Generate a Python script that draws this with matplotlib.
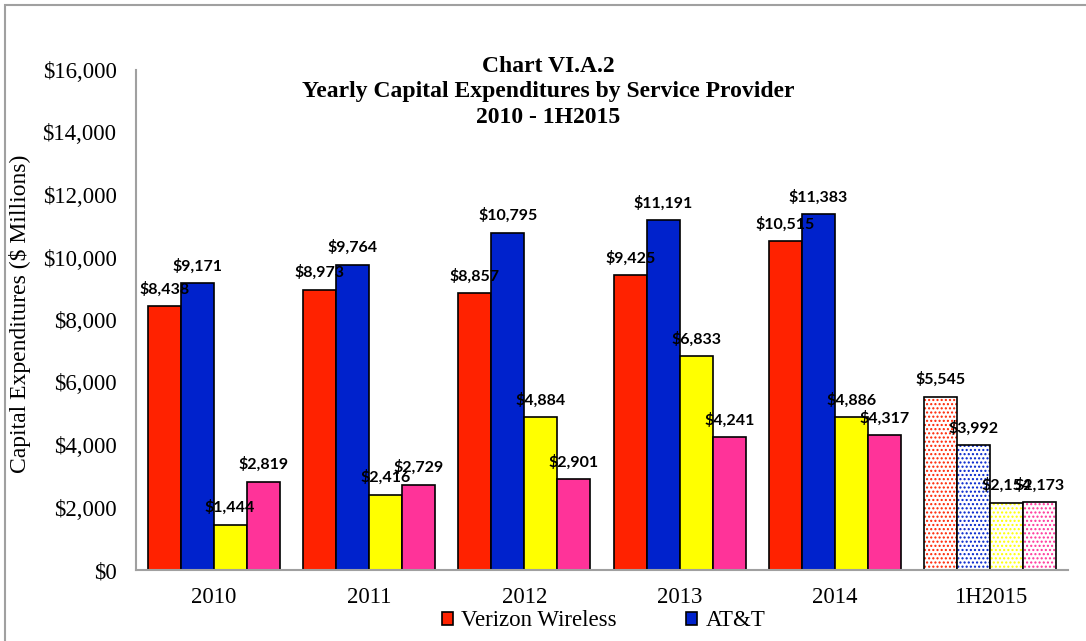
import matplotlib.pyplot as plt
import matplotlib.patches as mpatches
import numpy as np

periods = ['2010', '2011', '2012', '2013', '2014', '1H2015']
providers = ['Verizon Wireless', 'AT&T', 'Sprint', 'T-Mobile']
verizon = [8438, 8973, 8857, 9425, 10515, 5545]
att = [9171, 9764, 10795, 11191, 11383, 3992]
sprint = [1444, 2416, 4884, 6833, 4886, 2154]
tmobile = [2819, 2729, 2901, 4241, 4317, 2173]
colors = ['#FF2200', '#0022CC', '#FFFF00', '#FF3399']
series = [verizon, att, sprint, tmobile]

serif = 'Liberation Serif'
label_font = 'Lato'

plt.rcParams['hatch.linewidth'] = 1.0

fig = plt.figure(figsize=(10.86, 6.41), dpi=100)
ax = fig.add_axes([136 / 1086, 1 - 570 / 641, 932 / 1086, 500 / 641])

# grey frame around the whole chart (cropped on right/bottom)
fig.patches.append(mpatches.Rectangle((5 / 1086, -0.1), 1.2, 1 - 5 / 641 + 0.1,
                                      transform=fig.transFigure, fill=False,
                                      edgecolor='#A0A0A0', linewidth=1.5))

x = np.arange(len(periods))
w = 0.2125
for i, (vals, col) in enumerate(zip(series, colors)):
    pos = x + (i - 1.5) * w
    # full-year bars solid, half-year bar dotted
    ax.bar(pos[:-1], vals[:-1], w, color=col, edgecolor='black', linewidth=1.2,
           label=providers[i])
    ax.bar(pos[-1], vals[-1], w, color='white', edgecolor=col, hatch='....',
           linewidth=0)
    ax.bar(pos[-1], vals[-1], w, fill=False, edgecolor='black', linewidth=1.2)
    for p, v in zip(pos, vals):
        ax.annotate('${:,}'.format(v), (p, v), xytext=(0, 12.5),
                    textcoords='offset points', ha='center', va='center',
                    fontsize=11.5, fontweight='bold', family=label_font)

ax.set_xlim(-0.5, len(periods) - 0.5)
ax.set_ylim(0, 16000)
ax.set_yticks(np.arange(0, 16001, 2000))
ax.set_yticklabels(['${:,}'.format(t) for t in range(0, 16001, 2000)])
ax.set_xticks(x)
ax.set_xticklabels(periods)
for lab in ax.get_xticklabels() + ax.get_yticklabels():
    lab.set_family(serif)
    lab.set_fontsize(16.5)
ax.tick_params(axis='both', length=0)
ax.tick_params(axis='y', pad=14)
ax.tick_params(axis='x', pad=12)
for s in ['top', 'right']:
    ax.spines[s].set_visible(False)
for s in ['left', 'bottom']:
    ax.spines[s].set_color('#A0A0A0')
    ax.spines[s].set_linewidth(1.5)

fig.text(20 / 1086, 1 - 314 / 641, 'Capital Expenditures ($ Millions)', rotation=90,
         ha='center', va='center', family=serif, fontsize=17)

fig.text(548 / 1086, 1 - 56 / 641,
         'Chart VI.A.2\nYearly Capital Expenditures by Service Provider\n2010 - 1H2015',
         ha='center', va='top', family=serif, fontsize=17, fontweight='bold',
         linespacing=1.27)

handles, labels = ax.get_legend_handles_labels()
fig.legend(handles[:2], labels[:2], loc='center left',
           bbox_to_anchor=(442 / 1086, 1 - 621 / 641), ncol=2, frameon=False,
           prop={'family': serif, 'size': 16.5}, handlelength=0.5,
           handleheight=0.5, handletextpad=0.35, columnspacing=3.0,
           borderpad=0, borderaxespad=0)

fig.savefig('out.png', dpi=100)
